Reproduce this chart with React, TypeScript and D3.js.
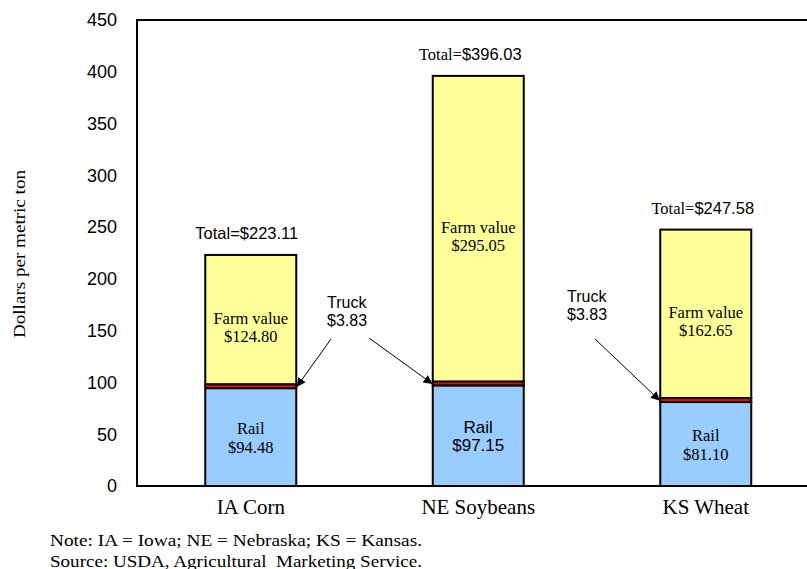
import React from "react";
import * as d3 from "d3";

// Cost components, dollars per metric ton
const categories = ["IA Corn", "NE Soybeans", "KS Wheat"];
const railValues = [94.48, 97.15, 81.1];
const truckValues = [3.83, 3.83, 3.83];
const farmValues = [124.8, 295.05, 162.65];
const totalValues = [223.11, 396.03, 247.58];
const yTicks = [0, 50, 100, 150, 200, 250, 300, 350, 400, 450];
const noteLines = [
  "Note: IA = Iowa; NE = Nebraska; KS = Kansas.",
  "Source: USDA, Agricultural  Marketing Service.",
];

const W = 807;
const H = 569;
const M = { left: 137, right: 819.5, top: 20, bottom: 486 };

const SERIF = "'Liberation Serif', 'Times New Roman', serif";
const SANS = "'Liberation Sans', Arial, sans-serif";

const COLORS = { rail: "#99ccff", truck: "#ff0000", farm: "#ffff99" };

export default function App() {
  const x = d3
    .scaleBand<string>()
    .domain(categories)
    .range([M.left, M.right])
    .paddingInner(0.6)
    .paddingOuter(0.3);
  const y = d3.scaleLinear().domain([0, 450]).range([M.bottom, M.top]);
  const bw = x.bandwidth();

  const rows = categories.map((c, i) => {
    const r = railValues[i];
    const t = truckValues[i];
    const f = farmValues[i];
    return {
      c,
      x0: x(c) as number,
      cx: (x(c) as number) + bw / 2,
      segs: [
        { key: "rail", lo: 0, hi: r, fill: COLORS.rail },
        { key: "truck", lo: r, hi: r + t, fill: COLORS.truck },
        { key: "farm", lo: r + t, hi: r + t + f, fill: COLORS.farm },
      ],
      railMid: y(r / 2),
      truckMid: y(r + t / 2),
      farmMid: y(r + t + f / 2),
      top: y(r + t + f),
    };
  });

  // Truck callouts: label position and arrow start; arrows end at the truck segment
  const callouts = [
    { lx: 327, ly: 308, from: [331, 339], bar: 0, side: "right", label: true },
    { lx: 327, ly: 308, from: [369, 338], bar: 1, side: "left", label: false },
    { lx: 567, ly: 302, from: [595, 339], bar: 2, side: "left", label: true },
  ];

  // small horizontal nudges for the total labels
  const totalDx = [-4, -8, -3];

  return (
    <svg
      width={W}
      height={H}
      style={{ position: "absolute", left: 0, top: 0, background: "#fff" }}
    >
      <defs>
        <marker
          id="arrowHead"
          viewBox="0 0 10 10"
          refX="9"
          refY="5"
          markerWidth="9"
          markerHeight="9"
          orient="auto"
          markerUnits="userSpaceOnUse"
        >
          <path d="M0,0 L10,5 L0,10 Z" fill="#000" />
        </marker>
      </defs>

      {/* y tick labels */}
      {yTicks.map((t) => (
        <text
          key={t}
          x={117}
          y={y(t)}
          dy="0.35em"
          textAnchor="end"
          fontFamily={SANS}
          fontSize={18}
          fill="#000"
        >
          {t}
        </text>
      ))}

      {/* y axis title */}
      <text
        transform={`translate(25,254) rotate(-90)`}
        textAnchor="middle"
        fontFamily={SERIF}
        fontSize={17.5}
        textLength={168}
        lengthAdjust="spacingAndGlyphs"
        fill="#000"
      >
        Dollars per metric ton
      </text>

      {/* stacked bars */}
      {rows.map((row) => (
        <g key={row.c}>
          {row.segs.map((s) => (
            <rect
              key={s.key}
              x={row.x0}
              y={y(s.hi)}
              width={bw}
              height={y(s.lo) - y(s.hi)}
              fill={s.fill}
              stroke="#000"
              strokeWidth={2}
            />
          ))}
        </g>
      ))}

      {/* plot frame */}
      <path
        d={`M${M.right},${M.top} H${M.left} V${M.bottom} H${M.right}`}
        fill="none"
        stroke="#000"
        strokeWidth={2}
      />

      {/* category labels */}
      {rows.map((row) => (
        <text
          key={row.c}
          x={row.cx}
          y={514}
          textAnchor="middle"
          fontFamily={SERIF}
          fontSize={21}
          fill="#000"
        >
          {row.c}
        </text>
      ))}

      {/* farm value labels */}
      {rows.map((row, i) => (
        <g key={`farm-${row.c}`}>
          <text x={row.cx} y={row.farmMid + 4} textAnchor="middle" fontFamily={SERIF} fontSize={16.5} fill="#000">
            Farm value
          </text>
          <text x={row.cx} y={row.farmMid + 22} textAnchor="middle" fontFamily={SERIF} fontSize={16.5} fill="#000">
            ${farmValues[i].toFixed(2)}
          </text>
        </g>
      ))}

      {/* rail labels */}
      {rows.map((row, i) =>
        i === 1 ? (
          <g key={`rail-${row.c}`}>
            <text x={row.cx} y={row.railMid - 3} textAnchor="middle" fontFamily={SANS} fontSize={17} fill="#000">
              Rail
            </text>
            <text x={row.cx} y={row.railMid + 15.5} textAnchor="middle" fontFamily={SANS} fontSize={17} fill="#000">
              ${railValues[i].toFixed(2)}
            </text>
          </g>
        ) : (
          <g key={`rail-${row.c}`}>
            <text x={row.cx} y={row.railMid - 3} textAnchor="middle" fontFamily={SERIF} fontSize={16.5} fill="#000">
              Rail
            </text>
            <text x={row.cx} y={row.railMid + 15.5} textAnchor="middle" fontFamily={SERIF} fontSize={16.5} fill="#000">
              ${railValues[i].toFixed(2)}
            </text>
          </g>
        )
      )}

      {/* totals */}
      {rows.map((row, i) => (
        <text
          key={`tot-${row.c}`}
          x={row.cx + totalDx[i]}
          y={row.top - 16}
          textAnchor="middle"
          fontSize={16.5}
          fill="#000"
          fontFamily={i === 0 ? SANS : SERIF}
        >
          Total=
          <tspan fontFamily={SANS}>${totalValues[i].toFixed(2)}</tspan>
        </text>
      ))}

      {/* truck callouts */}
      {callouts.map((cl, k) => {
        const row = rows[cl.bar];
        const ex = cl.side === "right" ? row.x0 + bw + 1 : row.x0 - 1;
        return (
          <g key={`call-${k}`}>
            {cl.label && (
              <g>
                <text x={cl.lx} y={cl.ly} fontFamily={SANS} fontSize={16} fill="#000">
                  Truck
                </text>
                <text x={cl.lx} y={cl.ly + 17.5} fontFamily={SANS} fontSize={16} fill="#000">
                  ${truckValues[cl.bar].toFixed(2)}
                </text>
              </g>
            )}
            <line
              x1={cl.from[0]}
              y1={cl.from[1]}
              x2={ex}
              y2={row.truckMid}
              stroke="#000"
              strokeWidth={1}
              markerEnd="url(#arrowHead)"
            />
          </g>
        );
      })}

      {/* notes */}
      {noteLines.map((t, i) => (
        <text
          key={i}
          x={50}
          y={546 + i * 20.5}
          fontFamily={SERIF}
          fontSize={17}
          textLength={372}
          lengthAdjust="spacingAndGlyphs"
          fill="#000"
          style={{ whiteSpace: "pre" }}
        >
          {t}
        </text>
      ))}
    </svg>
  );
}
